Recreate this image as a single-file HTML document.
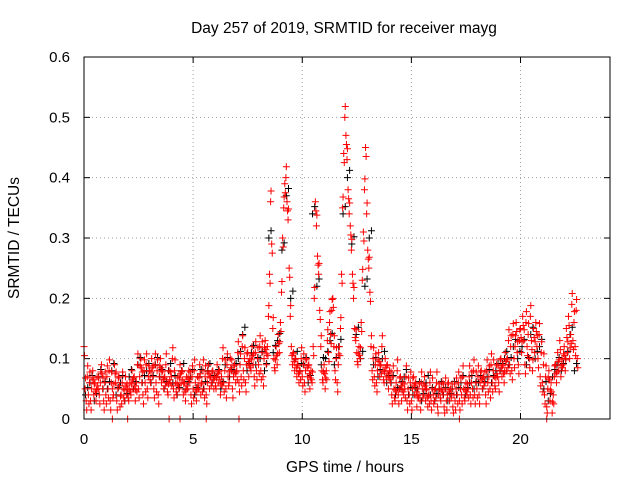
<!DOCTYPE html>
<html><head><meta charset="utf-8"><style>
body{margin:0;background:#fff}
svg{display:block;font-family:"Liberation Sans",sans-serif}
</style></head><body>
<svg id="chart" width="640" height="480">
<text x="344" y="33" text-anchor="middle" font-size="15.5">Day 257 of 2019, SRMTID for receiver mayg</text>
<text x="345" y="472" text-anchor="middle" font-size="15.5">GPS time / hours</text>
<text transform="translate(19,238) rotate(-90)" text-anchor="middle" font-size="15.5">SRMTID / TECUs</text>
<g id="grid"></g><g id="ticks"></g><g id="marks"></g>
<rect x="84" y="57" width="526" height="362" fill="none" stroke="#000" stroke-width="1"/>
</svg>
<script>
const xTicks=[0,5,10,15,20];
const yTicks=[0,0.1,0.2,0.3,0.4,0.5,0.6];
const yTickLabels=["0","0.1","0.2","0.3","0.4","0.5","0.6"];
const redStep=0.05;
const redValues=[
0.12,0.05,0.03,0.07,0.04,0.06,0.03,0.05,0.08,0.04,0.06,0.03,0.07,0.05,0.04,0.06,0.09,0.05,0.03,0.06,
0.04,0.07,0.05,0.08,0.03,0.06,0.05,0.04,0.09,0.06,0.03,0.05,0.07,0.02,0.04,0.06,0.05,0.03,0.07,0.04,
0.05,0.03,0.06,0.04,0.08,0.05,0.07,0.03,0.06,0.09,0.05,0.07,0.1,0.06,0.04,0.08,0.06,0.09,0.05,0.07,
0.08,0.06,0.1,0.07,0.05,0.09,0.06,0.08,0.04,0.07,0.1,0.06,0.08,0.05,0.07,0.09,0.06,0.04,0.08,0.06,
0.07,0.1,0.05,0.08,0.06,0.04,0.07,0.05,0.09,0.06,0.08,0.04,0.06,0.03,0.07,0.05,0.08,0.06,0.04,0.07,
0.05,0.08,0.06,0.03,0.07,0.05,0.09,0.04,0.06,0.08,0.05,0.07,0.04,0.06,0.09,0.05,0.07,0.06,0.08,0.05,
0.07,0.05,0.09,0.06,0.08,0.04,0.07,0.1,0.06,0.08,0.05,0.09,0.07,0.06,0.1,0.08,0.05,0.07,0.09,0.06,
0.08,0.11,0.06,0.09,0.07,0.12,0.08,0.1,0.06,0.09,0.11,0.07,0.1,0.08,0.12,0.09,0.07,0.11,0.08,0.1,
0.09,0.12,0.08,0.11,0.07,0.1,0.13,0.09,0.12,0.17,0.24,0.36,0.29,0.15,0.1,0.08,0.12,0.09,0.14,0.11,
0.16,0.21,0.3,0.35,0.39,0.4,0.36,0.33,0.25,0.17,0.12,0.09,0.11,0.08,0.1,0.07,0.09,0.06,0.08,0.1,
0.07,0.09,0.06,0.08,0.1,0.07,0.09,0.05,0.08,0.06,0.12,0.2,0.36,0.32,0.27,0.24,0.18,0.12,0.08,0.06,
0.09,0.05,0.08,0.13,0.11,0.16,0.14,0.18,0.2,0.12,0.08,0.1,0.06,0.09,0.12,0.15,0.24,0.35,0.44,0.5,
0.47,0.43,0.38,0.34,0.32,0.28,0.24,0.2,0.15,0.13,0.11,0.09,0.12,0.1,0.16,0.23,0.31,0.38,0.45,0.34,
0.28,0.25,0.21,0.12,0.08,0.1,0.07,0.09,0.06,0.08,0.11,0.07,0.09,0.12,0.08,0.06,0.1,0.07,0.09,0.05,
0.08,0.06,0.04,0.07,0.05,0.03,0.06,0.08,0.04,0.05,0.07,0.03,0.06,0.04,0.05,0.07,0.03,0.05,0.04,0.06,
0.03,0.05,0.07,0.04,0.06,0.02,0.05,0.04,0.03,0.06,0.05,0.04,0.07,0.03,0.05,0.02,0.04,0.06,0.03,0.05,
0.04,0.03,0.05,0.06,0.02,0.04,0.05,0.03,0.06,0.04,0.02,0.05,0.03,0.04,0.06,0.03,0.05,0.04,0.02,0.04,
0.03,0.05,0.04,0.06,0.03,0.05,0.04,0.07,0.05,0.03,0.06,0.04,0.05,0.07,0.04,0.06,0.05,0.08,0.04,0.06,
0.05,0.07,0.04,0.06,0.08,0.05,0.07,0.06,0.04,0.08,0.06,0.07,0.05,0.09,0.06,0.08,0.07,0.05,0.09,0.07,
0.06,0.08,0.1,0.07,0.09,0.06,0.11,0.08,0.1,0.13,0.09,0.12,0.08,0.14,0.1,0.12,0.16,0.11,0.09,0.13,
0.15,0.11,0.17,0.13,0.09,0.16,0.12,0.14,0.1,0.17,0.13,0.08,0.15,0.11,0.16,0.12,0.1,0.14,0.07,0.11,
0.06,0.09,0.04,0.07,0.02,0.05,0.08,0.03,0.06,0.01,0.04,0.07,0.09,0.06,0.11,0.08,0.13,0.07,0.1,0.09,
0.12,0.08,0.15,0.11,0.17,0.1,0.14,0.19,0.13,0.16,0.12,0.18,0.1];
const blackStep=0.2;
const blackValues=[
0.04,0.06,0.03,0.07,0.05, 0.05,0.08,0.04,0.06,0.03, 0.07,0.05,0.09,0.06,0.08, 0.06,0.09,0.07,0.05,0.08,
0.06,0.04,0.08,0.05,0.07, 0.04,0.07,0.05,0.08,0.06, 0.07,0.05,0.09,0.07,0.08, 0.1,0.14,0.08,0.11,0.09,
0.1,0.08,0.3,0.11,0.13, 0.28,0.37,0.2,0.1,0.08, 0.09,0.06,0.34,0.22,0.09, 0.1,0.13,0.09,0.12,0.34,
0.4,0.29,0.14,0.1,0.22, 0.3,0.09,0.07,0.1,0.06, 0.06,0.04,0.05,0.07,0.04, 0.04,0.05,0.03,0.06,0.04,
0.03,0.05,0.04,0.03,0.05, 0.04,0.06,0.04,0.06,0.05, 0.06,0.05,0.07,0.06,0.08, 0.08,0.1,0.09,0.12,0.1,
0.12,0.09,0.14,0.1,0.12, 0.05,0.03,0.07,0.09,0.08, 0.1,0.14,0.08];
const zeroTimes=[1.3,2.0,3.9,4.4,5.6,7.1,17.2,21.2];

const X0=84,X1=610,Y0=419,Y1=57;
function xs(t){return X0+t*(X1-X0)/24.1;}
function ys(v){return Y0-v*(Y0-Y1)/0.6;}
const NS="http://www.w3.org/2000/svg";
const grid=document.getElementById('grid'),ticks=document.getElementById('ticks'),marks=document.getElementById('marks');
function mk(tag,attrs,parent){const e=document.createElementNS(NS,tag);for(const k in attrs)e.setAttribute(k,attrs[k]);parent.appendChild(e);return e;}
yTicks.forEach((v,i)=>{
 const y=ys(v);
 if(i>0&&i<yTicks.length-1){const g=mk('line',{x1:X0,x2:X1,y1:y,y2:y,stroke:'#a0a0a0','stroke-dasharray':'1,3'},grid);
 
 }
 mk('line',{x1:X0,x2:X0+6,y1:y,y2:y,stroke:'#000'},ticks);
 mk('line',{x1:X1,x2:X1-6,y1:y,y2:y,stroke:'#000'},ticks);
 const t=mk('text',{x:70,y:y+5,'text-anchor':'end','font-size':15},ticks);t.textContent=yTickLabels[i];
 
 
});
xTicks.forEach(v=>{
 const x=xs(v);
 if(v>0){const g=mk('line',{x1:x,x2:x,y1:Y0,y2:Y1,stroke:'#a0a0a0','stroke-dasharray':'1,3'},grid);
 
 }
 mk('line',{x1:x,x2:x,y1:Y0,y2:Y0-6,stroke:'#000'},ticks);
 mk('line',{x1:x,x2:x,y1:Y1,y2:Y1+6,stroke:'#000'},ticks);
 const t=mk('text',{x:x,y:444,'text-anchor':'middle','font-size':15},ticks);t.textContent=String(v);
 
 
});
function plus(t,v,color,name){
 const x=xs(t),y=ys(v);
 const p=mk('path',{d:`M${x-3.5},${y}h7M${x},${y-3.5}v7`,stroke:color,'stroke-width':1,fill:'none'},marks);
 
 
}
blackValues.forEach((v,i)=>plus(i*blackStep+0.07,v,'#000','black-point'));
blackValues.forEach((v,i)=>plus(i*blackStep+0.17,v+0.012,'#000','black-point'));
redValues.forEach((v,i)=>plus(i*redStep,v,'#ff0000','red-point'));
redValues.forEach((v,i)=>{if(i%2===0)plus(i*redStep+0.025,Math.max(0.01,v-0.015),'#ff0000','red-point');});
redValues.forEach((v,i)=>{if(i%2===1)plus(i*redStep+0.02,v+0.018,'#ff0000','red-point');});
zeroTimes.forEach(t=>plus(t,0,'#ff0000','red-zero-point'));
</script>
</body></html>
